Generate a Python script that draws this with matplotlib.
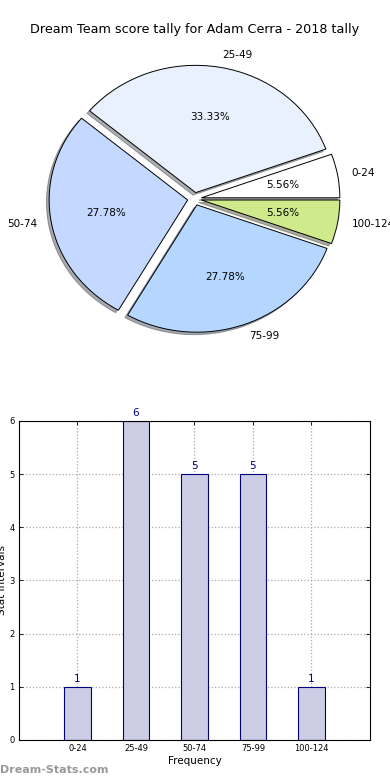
import matplotlib
matplotlib.use("Agg")
import matplotlib.pyplot as plt

categories = ["0-24", "25-49", "50-74", "75-99", "100-124"]
counts = [1, 6, 5, 5, 1]
pie_colors = ["#ffffff", "#e9f1ff", "#c5d8ff", "#b5d7ff", "#cfea8a"]
yticks = [0, 1, 2, 3, 4, 5, 6]

fig = plt.figure(figsize=(3.9, 7.8), dpi=100)

# Pie chart
ax1 = fig.add_axes([0.0547, 0.541, 0.888, 0.408])
ax1.pie(counts, labels=categories, colors=pie_colors, autopct="%.2f%%",
        explode=[0.05] * len(counts),
        shadow=dict(ox=-0.014, oy=-0.014, alpha=0.45),
        startangle=0,
        wedgeprops=dict(edgecolor="black", linewidth=0.7),
        textprops=dict(fontsize=7.5))
ax1.set_aspect("auto")
ax1.set_xlim(-1.25, 1.25)
ax1.set_ylim(-1.25, 1.25)
fig.text(0.5, 1 - 30 / 780, "Dream Team score tally for Adam Cerra - 2018 tally",
         ha="center", va="center", fontsize=9.2)

# Bar chart
ax2 = fig.add_axes([0.0487, 0.0513, 0.9, 0.409])
x = list(range(len(categories)))
bars = ax2.bar(x, counts, width=0.45, color="#ccccE5", edgecolor="#000080", linewidth=0.8)
for xi, c in zip(x, counts):
    ax2.text(xi, c + 0.05, str(c), ha="center", va="bottom", fontsize=7.5, color="#000080")
ax2.set_xlim(-1, 5)
ax2.set_ylim(0, 6)
ax2.set_xticks(x)
ax2.set_xticklabels(categories, fontsize=6)
ax2.set_yticks(yticks)
ax2.set_yticklabels([str(t) for t in yticks], fontsize=6)
ax2.tick_params(direction="in", top=True, right=True, length=3, width=0.6, pad=3)
ax2.grid(True, linestyle=":", color="#aaaaaa", linewidth=0.9)
ax2.set_axisbelow(True)
ax2.set_xlabel("Frequency", fontsize=7.5, labelpad=2)
ax2.set_ylabel("Stat Intervals", fontsize=7.5, labelpad=2)
for s in ax2.spines.values():
    s.set_linewidth(0.8)

fig.text(0.0, 1 - 770 / 780, "Dream-Stats.com", ha="left", va="center",
         fontsize=8, color="#999999", fontweight="bold")

fig.savefig("out.png", dpi=100)
